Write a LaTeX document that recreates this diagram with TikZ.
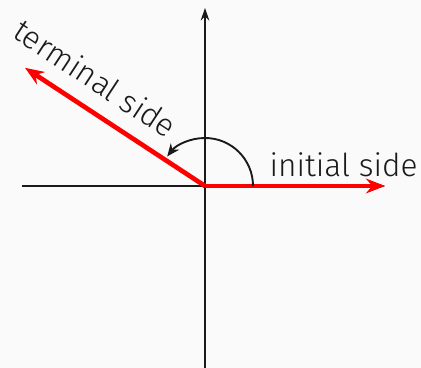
\documentclass[tikz,border=0pt]{standalone}
\usepackage{fontspec}
\setmainfont{Fira Sans}[UprightFont=* Light]
\usepackage{xcolor}
\usetikzlibrary{arrows.meta}

\definecolor{bgcolor}{HTML}{FAFAFA}
\definecolor{textdark}{HTML}{1A1A1A}

\begin{document}
\begin{tikzpicture}[
    % Line styles
    axis/.style={
        -{Stealth[length=6pt,width=4pt]},
        line width=1pt,
        color=textdark
    },
    ray/.style={
        -{Stealth[length=9pt,width=7pt]},
        line width=2.2pt,
        color=red
    },
    turn/.style={
        -{Stealth[length=6pt,width=5pt]},
        line width=0.9pt,
        color=textdark
    },
    label/.style={
        font=\fontsize{15}{18}\selectfont,
        text=textdark
    }
]

% ===== Background and bounds =====
\fill[bgcolor] (-3.417,-3.033) rectangle (3.6,3.1);
\useasboundingbox (-3.417,-3.033) rectangle (3.6,3.1);

% ===== Points =====
\coordinate (O) at (0,0);
\coordinate (xl) at (-3.05,0);
\coordinate (xr) at (3,0);
\coordinate (yb) at (0,-3.1);
\coordinate (yt) at (0,2.97);
\coordinate (init) at (3,0);
\coordinate (term) at (-3,1.97);

% ===== Axes =====
\draw[axis] (xl) -- (xr);
\draw[axis] (yb) -- (yt);

% ===== Sides of the angle =====
\draw[ray] (O) -- (init)
    node[pos=0.77, above, label] {initial side};
\draw[ray] (O) -- (term)
    node[pos=0.7, above=4pt, sloped, label] {terminal side};

% ===== Rotation arc =====
\draw[turn] (0.8,0) arc[start angle=0, end angle=142, radius=0.8];

\end{tikzpicture}
\end{document}
